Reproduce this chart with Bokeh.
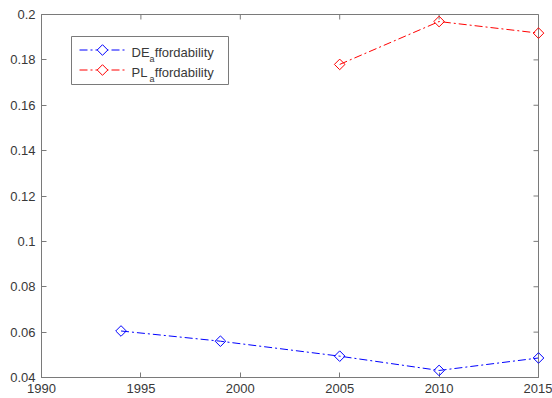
import numpy as np
from bokeh.plotting import figure
from bokeh.models import (Range1d, FixedTicker, BoxAnnotation, Arrow,
                          PolyAnnotation, Label, ColumnDataSource)
from bokeh.embed import file_html
from bokeh.resources import INLINE

# ---- data ----
years = [1994, 1999, 2005, 2010, 2015]
de_affordability = [0.0605, 0.0560, 0.0494, 0.0431, 0.0486]
pl_affordability = [np.nan, np.nan, 0.1780, 0.1969, 0.1918]
series_names = ["DE", "PL"]
series_sub = "a"
series_rest = "ffordability"
x_ticks = [1990, 1995, 2000, 2005, 2010, 2015]
y_ticks = [0.04, 0.06, 0.08, 0.10, 0.12, 0.14, 0.16, 0.18, 0.20]
y_tick_labels = ["0.04", "0.06", "0.08", "0.1", "0.12", "0.14", "0.16", "0.18", "0.2"]
x_min, x_max = 1990, 2015
y_min, y_max = 0.04, 0.2

AX = "#7a7a7a"
TXT = "#383838"
FONT = "Liberation Sans"
DASH = "8 3 2 3"
COLORS = ["#0000ff", "#ff0000"]

p = figure(width=552, height=398, output_backend="svg", toolbar_location=None,
           x_range=Range1d(x_min, x_max), y_range=Range1d(y_min, y_max),
           min_border_left=41, min_border_right=14, min_border_top=14, min_border_bottom=21,
           background_fill_color="white", border_fill_color="white")
p.grid.visible = False
p.outline_line_color = AX
p.outline_line_width = 1

def style_axis(ax, standoff):
    ax.axis_line_color = AX
    ax.major_tick_line_color = AX
    ax.minor_tick_line_color = None
    ax.major_tick_in = 5
    ax.major_tick_out = 0
    ax.major_label_text_font = FONT
    ax.major_label_text_color = TXT
    ax.major_label_text_font_size = "13px"
    ax.major_label_standoff = standoff

p.xaxis.ticker = FixedTicker(ticks=x_ticks)
p.yaxis.ticker = FixedTicker(ticks=y_ticks)
p.yaxis.major_label_overrides = {t: l for t, l in zip(y_ticks, y_tick_labels)}
style_axis(p.xaxis[0], 6)
style_axis(p.yaxis[0], 6)

# inward ticks on the top and right edges (clipped to the frame -> 5 px inside)
tick_kw = dict(marker="dash", size=10, line_color=AX, line_width=1)
p.scatter(x=x_ticks, y=[y_max] * len(x_ticks), angle=np.pi / 2, **tick_kw)
p.scatter(x=[x_max] * len(y_ticks), y=y_ticks, **tick_kw)

for vals, col in zip([de_affordability, pl_affordability], COLORS):
    src = ColumnDataSource(dict(x=years, y=vals))
    p.line("x", "y", source=src, line_color=col, line_width=1, line_dash=DASH)
    p.scatter("x", "y", source=src, marker="square", angle=np.pi / 4, size=7.5,
              fill_color=None, line_color=col, line_width=1, level="overlay")

# ---- legend (screen units relative to the frame: left=41, bottom=377) ----
def fx(px):
    return px - 41
def fy(py):
    return 377 - py

p.add_layout(BoxAnnotation(left=fx(71), right=fx(228), top=fy(36), bottom=fy(84),
                           left_units="screen", right_units="screen",
                           top_units="screen", bottom_units="screen",
                           fill_color="white", fill_alpha=1.0,
                           line_color=AX, line_alpha=1.0, line_width=1))

for i, (name, col) in enumerate(zip(series_names, COLORS)):
    cy = 49.5 + 20 * i
    p.add_layout(Arrow(end=None, x_start=fx(79), y_start=fy(cy), x_end=fx(125), y_end=fy(cy),
                       start_units="screen", end_units="screen",
                       line_color=col, line_width=1, line_dash=DASH))
    h = 5.3
    p.add_layout(PolyAnnotation(xs=[fx(102), fx(102 + h), fx(102), fx(102 - h)],
                                ys=[fy(cy - h), fy(cy), fy(cy + h), fy(cy)],
                                xs_units="screen", ys_units="screen",
                                fill_color="white", fill_alpha=1.0,
                                line_color=col, line_alpha=1.0, line_width=1))
    base = cy + 2.2
    p.add_layout(Label(x=fx(131), y=fy(base), x_units="screen", y_units="screen",
                       text=name, text_font=FONT, text_font_size="13px",
                       text_color=TXT, text_baseline="alphabetic"))
    p.add_layout(Label(x=fx(149), y=fy(base + 6.8), x_units="screen", y_units="screen",
                       text=series_sub, text_font=FONT, text_font_size="9px",
                       text_color=TXT, text_baseline="alphabetic"))
    p.add_layout(Label(x=fx(154.3), y=fy(base), x_units="screen", y_units="screen",
                       text=series_rest, text_font=FONT, text_font_size="13px",
                       text_color=TXT, text_baseline="alphabetic"))

open("out.html", "w").write(file_html(p, INLINE))
